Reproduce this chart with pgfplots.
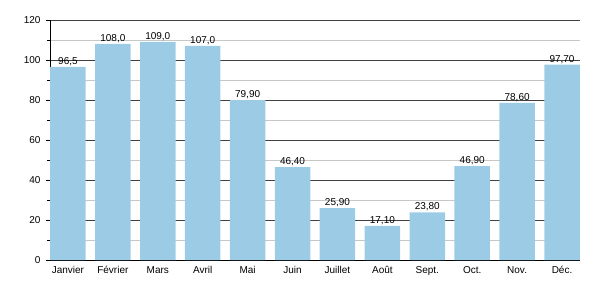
\documentclass[border=0pt]{standalone}
\usepackage{pgfplots}
\pgfplotsset{compat=1.18}
\usepackage{fontspec}
\setmainfont{Liberation Sans}
\definecolor{barblue}{HTML}{9CCCE5}
\begin{document}
\begin{tikzpicture}[x=1pt,y=1pt]
\begin{axis}[name=ax,
  scale only axis, width=530pt, height=240pt,
  xmin=-0.4, xmax=11.4, ymin=0, ymax=120,
  axis lines=left, axis line style={-, black, line width=0.8pt},
  ybar, bar width=0.79, bar shift=0pt,
  xtick={0,...,11},
  xticklabels={Janvier,Février,Mars,Avril,Mai,Juin,Juillet,Août,Sept.,Oct.,Nov.,Déc.},
  x tick style={draw=none},
  ytick={0,20,...,120}, minor ytick={10,30,...,110},
  ymajorgrids, yminorgrids,
  major grid style={color=black!75, line width=0.6pt},
  minor grid style={color=black!22, line width=0.6pt},
  y tick style={black, line width=0.7pt},
  tick align=outside, major tick length=4pt, minor tick length=3pt,
  tick label style={font=\fontsize{10}{11}\selectfont},
  /pgf/number format/assume math mode=true,
  yticklabel style={xshift=-2pt},
  xticklabel style={yshift=1pt},
  nodes near coords, point meta=explicit symbolic,
  every node near coord/.append style={font=\fontsize{10}{11}\selectfont, inner sep=1pt},
  clip=false,
]
\addplot[fill=barblue, draw=none] table[x=x, y=y, meta=lab] {
x y lab
0 96.5 96,5
1 108.0 108,0
2 109.0 109,0
3 107.0 107,0
4 79.9 79,90
5 46.4 46,40
6 25.9 25,90
7 17.1 17,10
8 23.8 23,80
9 46.9 46,90
10 78.6 78,60
11 97.7 97,70
};
\end{axis}
\pgfresetboundingbox
\path[use as bounding box] ([xshift=-50pt,yshift=-40pt]ax.south west) rectangle ([xshift=20pt,yshift=20pt]ax.north east);
\end{tikzpicture}
\end{document}
